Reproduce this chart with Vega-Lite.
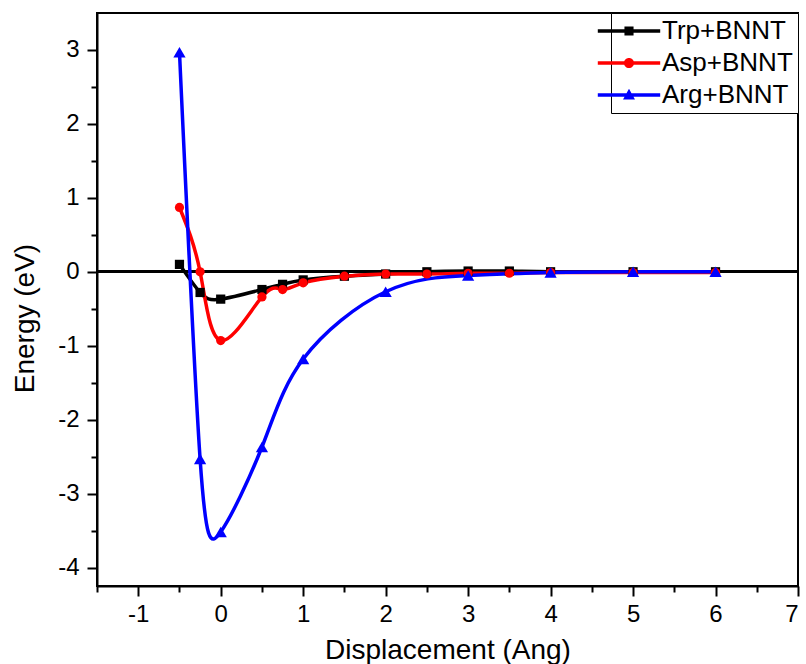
{
  "$schema": "https://vega.github.io/schema/vega-lite/v6.json",
  "width": 701,
  "height": 573,
  "autosize": {"type": "none"},
  "padding": {"left": 97, "top": 13, "right": 8, "bottom": 78},
  "background": "white",
  "config": {
    "font": "Liberation Sans",
    "view": {"stroke": "black", "strokeWidth": 2},
    "axis": {
      "grid": false,
      "domainColor": "black",
      "domainWidth": 2,
      "tickColor": "black",
      "tickWidth": 2,
      "labelColor": "black",
      "labelFont": "Liberation Sans",
      "labelFontSize": 24,
      "titleFont": "Liberation Sans",
      "titleFontSize": 28,
      "titleFontWeight": "normal",
      "titleColor": "black"
    }
  },
  "data": {
    "values": [
      {"series": "Trp+BNNT", "x": -0.5, "y": 0.10},
      {"series": "Trp+BNNT", "x": -0.25, "y": -0.28},
      {"series": "Trp+BNNT", "x": 0, "y": -0.37},
      {"series": "Trp+BNNT", "x": 0.5, "y": -0.24},
      {"series": "Trp+BNNT", "x": 0.75, "y": -0.17},
      {"series": "Trp+BNNT", "x": 1, "y": -0.11},
      {"series": "Trp+BNNT", "x": 1.5, "y": -0.06},
      {"series": "Trp+BNNT", "x": 2, "y": -0.03},
      {"series": "Trp+BNNT", "x": 2.5, "y": 0.0},
      {"series": "Trp+BNNT", "x": 3, "y": 0.01},
      {"series": "Trp+BNNT", "x": 3.5, "y": 0.01},
      {"series": "Trp+BNNT", "x": 4, "y": 0.0},
      {"series": "Trp+BNNT", "x": 5, "y": 0.0},
      {"series": "Trp+BNNT", "x": 6, "y": 0.0},
      {"series": "Asp+BNNT", "x": -0.5, "y": 0.87},
      {"series": "Asp+BNNT", "x": -0.25, "y": 0.0},
      {"series": "Asp+BNNT", "x": 0, "y": -0.93},
      {"series": "Asp+BNNT", "x": 0.5, "y": -0.34},
      {"series": "Asp+BNNT", "x": 0.75, "y": -0.24},
      {"series": "Asp+BNNT", "x": 1, "y": -0.15},
      {"series": "Asp+BNNT", "x": 1.5, "y": -0.06},
      {"series": "Asp+BNNT", "x": 2, "y": -0.03},
      {"series": "Asp+BNNT", "x": 2.5, "y": -0.03},
      {"series": "Asp+BNNT", "x": 3, "y": -0.02},
      {"series": "Asp+BNNT", "x": 3.5, "y": -0.02},
      {"series": "Asp+BNNT", "x": 4, "y": -0.01},
      {"series": "Asp+BNNT", "x": 5, "y": -0.01},
      {"series": "Asp+BNNT", "x": 6, "y": -0.01},
      {"series": "Arg+BNNT", "x": -0.5, "y": 2.97},
      {"series": "Arg+BNNT", "x": -0.25, "y": -2.53},
      {"series": "Arg+BNNT", "x": 0, "y": -3.52},
      {"series": "Arg+BNNT", "x": 0.5, "y": -2.37},
      {"series": "Arg+BNNT", "x": 1, "y": -1.18},
      {"series": "Arg+BNNT", "x": 2, "y": -0.27},
      {"series": "Arg+BNNT", "x": 3, "y": -0.05},
      {"series": "Arg+BNNT", "x": 4, "y": -0.01},
      {"series": "Arg+BNNT", "x": 5, "y": 0.0},
      {"series": "Arg+BNNT", "x": 6, "y": 0.0}
    ]
  },
  "resolve": {"axis": {"x": "independent", "y": "independent"}},
  "layer": [
    {
      "mark": {"type": "rule", "color": "black", "strokeWidth": 2},
      "encoding": {
        "y": {
          "datum": 0,
          "type": "quantitative",
          "scale": {"domain": [-4.25, 3.5], "nice": false, "zero": false},
          "axis": {
            "orient": "left",
            "values": [-3.5, -2.5, -1.5, -0.5, 0.5, 1.5, 2.5],
            "tickSize": 6,
            "labels": false,
            "domain": false,
            "title": null
          }
        }
      }
    },
    {
      "mark": {"type": "point", "opacity": 0, "filled": true},
      "encoding": {
        "x": {
          "field": "x",
          "type": "quantitative",
          "scale": {"domain": [-1.5, 7], "nice": false, "zero": false},
          "axis": {
            "orient": "bottom",
            "values": [-1.5, -0.5, 0.5, 1.5, 2.5, 3.5, 4.5, 5.5, 6.5],
            "tickSize": 6,
            "labels": false,
            "domain": false,
            "title": null
          }
        },
        "y": {
          "field": "y",
          "type": "quantitative",
          "scale": {"domain": [-4.25, 3.5], "nice": false, "zero": false},
          "axis": null
        },
        "color": {
          "field": "series",
          "type": "nominal",
          "scale": {
            "domain": ["Trp+BNNT", "Asp+BNNT", "Arg+BNNT"],
            "range": ["#000000", "#ff0000", "#0000ff"]
          },
          "legend": {
            "title": null,
            "orient": "top-right",
            "offset": 0,
            "padding": 5,
            "strokeColor": "black",
            "fillColor": "white",
            "labelFont": "Liberation Sans",
            "labelFontSize": 26,
            "labelColor": "black",
            "labelOffset": 20,
            "rowPadding": 6,
            "symbolSize": 676,
            "encode": {
              "symbols": {
                "update": {
                  "shape": {"signal": "datum.value === 'Trp+BNNT' ? 'M-2.4,-0.13H2.4V0.13H-2.4Z M-0.35,-0.35H0.35V0.35H-0.35Z' : datum.value === 'Asp+BNNT' ? 'M-2.4,-0.13H2.4V0.13H-2.4Z M-0.39,0A0.39,0.39 0 1,1 0.39,0A0.39,0.39 0 1,1 -0.39,0Z' : 'M-2.4,-0.13H2.4V0.13H-2.4Z M0,-0.48L0.46,0.34H-0.46Z'"},
                  "fill": {"scale": "color", "field": "value"},
                  "fillOpacity": {"value": 1},
                  "opacity": {"value": 1},
                  "strokeWidth": {"value": 0}
                }
              }
            }
          }
        }
      }
    },
    {
      "mark": {"type": "line", "interpolate": "natural", "strokeWidth": 3.5},
      "encoding": {
        "x": {
          "field": "x",
          "type": "quantitative",
          "scale": {"domain": [-1.5, 7], "nice": false, "zero": false},
          "axis": {
            "orient": "bottom",
            "values": [-1, 0, 1, 2, 3, 4, 5, 6, 7],
            "tickSize": 10,
            "labelPadding": 6,
            "labelExpr": "'' + datum.value",
            "title": "Displacement (Ang)",
            "titlePadding": 10
          }
        },
        "y": {
          "field": "y",
          "type": "quantitative",
          "scale": {"domain": [-4.25, 3.5], "nice": false, "zero": false},
          "axis": {
            "orient": "left",
            "values": [-4, -3, -2, -1, 0, 1, 2, 3],
            "tickSize": 10,
            "labelPadding": 8,
            "labelExpr": "'' + datum.value",
            "title": "Energy (eV)",
            "titlePadding": 18,
            "titleY": 305
          }
        },
        "color": {"field": "series", "type": "nominal", "legend": null}
      }
    },
    {
      "transform": [{"filter": "datum.series === 'Trp+BNNT'"}],
      "mark": {"type": "point", "filled": true, "opacity": 1, "size": 85, "shape": "square"},
      "encoding": {
        "x": {"field": "x", "type": "quantitative", "axis": null},
        "y": {"field": "y", "type": "quantitative", "axis": null},
        "color": {"field": "series", "type": "nominal", "legend": null}
      }
    },
    {
      "transform": [{"filter": "datum.series === 'Asp+BNNT'"}],
      "mark": {"type": "point", "filled": true, "opacity": 1, "size": 85, "shape": "circle"},
      "encoding": {
        "x": {"field": "x", "type": "quantitative", "axis": null},
        "y": {"field": "y", "type": "quantitative", "axis": null},
        "color": {"field": "series", "type": "nominal", "legend": null}
      }
    },
    {
      "transform": [{"filter": "datum.series === 'Arg+BNNT'"}],
      "mark": {"type": "point", "filled": true, "opacity": 1, "size": 150, "shape": "triangle-up"},
      "encoding": {
        "x": {"field": "x", "type": "quantitative", "axis": null},
        "y": {"field": "y", "type": "quantitative", "axis": null},
        "color": {"field": "series", "type": "nominal", "legend": null}
      }
    }
  ]
}
